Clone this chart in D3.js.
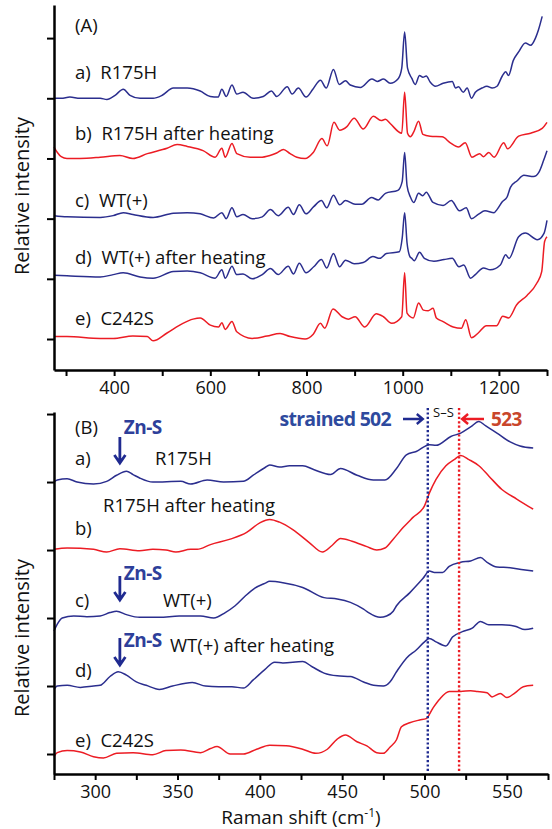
<!DOCTYPE html>
<html>
<head>
<meta charset="utf-8">
<script src="https://cdn.jsdelivr.net/npm/d3@7"></script>
<style>
  html, body { margin: 0; padding: 0; background: #fff; }
  svg { display: block; font-family: "Open Sans", sans-serif; }
</style>
</head>
<body>
<svg id="chart" width="552" height="829"></svg>
<script>
// ---- data: panel A (Raman shift cm-1, relative intensity; 1 = one tick step) ----
const specA_a = [[275,0],[290,0],[308,0.02],[329,0],[350,0],[371,0],[385,-0.02],[402,0.05],[419,0.15],[433,0.05],[454,0],[481,0],[500,0.05],[523,0.17],[552,0.17],[579,0.12],[600,0.03],[616,0.02],[624,0.15],[633,0.03],[645,0.22],[655,0.07],[668,0.1],[689,0],[710,0.03],[727,0.12],[738,0.03],[760,0.19],[770,0.07],[783,0.17],[799,0.02],[814,0.16],[829,0.3],[841,0.17],[856,0.48],[868,0.23],[881,0.29],[891,0.22],[912,0.18],[936,0.32],[947,0.28],[960,0.32],[974,0.25],[991,0.33],[998,0.5],[1004,1.1],[1010,0.5],[1019,0.33],[1026,0.23],[1035,0.38],[1042,0.35],[1049,0.37],[1057,0.27],[1068,0.2],[1084,0.25],[1103,0.28],[1110,0.17],[1116,0.19],[1126,0.1],[1134,0.17],[1143,0],[1151,0.1],[1165,0.17],[1175,0.2],[1186,0.17],[1196,0.2],[1207,0.37],[1214,0.44],[1220,0.38],[1230,0.63],[1241,0.77],[1255,0.92],[1266,0.88],[1276,1.0],[1282,1.13],[1290,1.36]];
const specA_b = [[275,0.19],[282,0.1],[290,0.03],[302,0],[329,0],[371,0.02],[412,0.05],[439,0],[469,0.08],[510,0.17],[531,0.23],[552,0.2],[585,0.13],[610,0.02],[624,0.17],[631,0.02],[645,0.25],[655,0.08],[683,0.02],[704,0.02],[724,0.05],[738,0.09],[752,0.15],[766,0.08],[780,0.02],[797,0],[814,0.1],[832,0.33],[843,0.21],[857,0.6],[869,0.47],[884,0.53],[899,0.67],[918,0.49],[939,0.7],[955,0.63],[964,0.65],[974,0.58],[998,0.42],[1004,1.1],[1010,0.42],[1016,0.36],[1023,0.44],[1033,0.62],[1042,0.4],[1057,0.37],[1082,0.36],[1099,0.26],[1116,0.19],[1130,0.26],[1144,0.02],[1160,0.08],[1168,0.03],[1179,0.1],[1190,0.02],[1210,0.26],[1218,0.16],[1241,0.37],[1266,0.42],[1290,0.5],[1300,0.6]];
const specA_c = [[275,0.05],[302,0.03],[371,0.02],[398,0.05],[419,0.1],[439,0.07],[481,0.02],[523,0.09],[552,0.1],[579,0.08],[607,0.01],[624,0.1],[633,0],[645,0.18],[655,0.03],[668,0.07],[687,0],[708,0.03],[725,0.15],[741,0.05],[762,0.19],[773,0.07],[785,0.23],[799,0.08],[815,0.2],[831,0.3],[842,0.18],[856,0.39],[869,0.23],[881,0.3],[901,0.24],[915,0.24],[935,0.35],[949,0.31],[964,0.42],[990,0.47],[999,0.62],[1004,1.1],[1009,0.55],[1016,0.36],[1023,0.27],[1033,0.42],[1042,0.38],[1049,0.44],[1063,0.27],[1084,0.22],[1101,0.3],[1118,0.13],[1132,0.18],[1143,0],[1157,0.07],[1171,0.13],[1190,0.1],[1196,0.15],[1207,0.28],[1217,0.36],[1224,0.52],[1238,0.63],[1252,0.72],[1272,0.7],[1283,0.77],[1293,0.97],[1300,1.13]];
const specA_d = [[275,0.06],[302,0.05],[371,0.03],[398,0.07],[419,0.1],[454,0.03],[481,0.01],[523,0.12],[552,0.13],[579,0.1],[610,0.01],[624,0.15],[631,0.01],[645,0.21],[655,0.07],[668,0.08],[687,0],[708,0.07],[725,0.17],[741,0.07],[762,0.21],[773,0.08],[785,0.26],[799,0.1],[815,0.2],[831,0.32],[842,0.18],[856,0.42],[869,0.2],[881,0.31],[899,0.25],[918,0.27],[938,0.37],[952,0.34],[966,0.42],[993,0.45],[999,0.68],[1004,1.1],[1009,0.6],[1015,0.37],[1019,0.34],[1024,0.3],[1035,0.44],[1045,0.34],[1065,0.29],[1086,0.32],[1103,0.34],[1117,0.2],[1127,0.23],[1141,0.01],[1151,0.07],[1168,0.18],[1182,0.15],[1203,0.23],[1214,0.4],[1221,0.34],[1241,0.7],[1255,0.76],[1280,0.65],[1294,0.76],[1300,0.97]];
const specA_e = [[275,0.04],[302,0.04],[371,0.01],[398,0.01],[439,0.05],[469,0.04],[481,-0.03],[510,0.1],[543,0.26],[564,0.33],[579,0.35],[600,0.23],[617,0.2],[624,0.27],[631,0.16],[645,0.29],[655,0.12],[687,0.01],[718,0.05],[745,0.09],[766,0.04],[797,0],[814,0.08],[829,0.26],[838,0.18],[855,0.5],[874,0.37],[887,0.33],[901,0.37],[921,0.2],[945,0.42],[960,0.37],[977,0.26],[998,0.37],[1004,1.1],[1009,0.43],[1022,0.35],[1033,0.6],[1043,0.48],[1053,0.47],[1063,0.51],[1070,0.35],[1084,0.29],[1105,0.2],[1122,0.18],[1131,0.32],[1143,0.02],[1157,0.1],[1174,0.22],[1195,0.22],[1208,0.38],[1220,0.35],[1237,0.57],[1258,0.72],[1279,0.93],[1289,1.12],[1295,1.62],[1300,1.7]];

// ---- data: panel B ----
const specB_a = [[275,0],[277,0.03],[283,0.05],[289,0],[299,-0.03],[307,0.01],[313,0.1],[319,0.16],[323,0.11],[327,0.06],[335,0],[352,0.01],[358,-0.03],[368,0.03],[378,0],[390,0.01],[396,0.1],[403,0.21],[406,0.25],[412,0.22],[418,0.24],[426,0.24],[433,0.18],[443,0.11],[449,0.2],[459,0.1],[469,0.03],[476,0.03],[483,0.2],[489,0.4],[495,0.45],[503,0.55],[507,0.54],[516,0.67],[522,0.72],[528,0.81],[533,0.89],[537,0.83],[544,0.72],[552,0.59],[558,0.53],[566,0.5]];
const specB_b = [[275,0.01],[283,0.03],[299,0.01],[307,-0.03],[315,0.02],[327,-0.01],[335,0.01],[343,0],[349,-0.03],[358,0.01],[362,0.01],[370,0.08],[382,0.16],[392,0.26],[400,0.4],[406,0.45],[412,0.41],[420,0.3],[430,0.11],[438,-0.03],[444,0.07],[449,0.17],[456,0.13],[465,0.05],[471,0],[476,0.03],[481,0.16],[487,0.33],[493,0.48],[500,0.65],[503,0.84],[507,1.04],[513,1.24],[518,1.33],[522,1.39],[527,1.33],[533,1.24],[539,1.09],[547,0.89],[556,0.75],[566,0.6]];
const specB_c = [[275,-0.19],[277,-0.09],[280,0],[287,0.03],[295,0.02],[303,0.03],[309,0.08],[313,0.1],[319,0.05],[327,0.01],[339,0.01],[351,0.03],[364,0.03],[372,0],[379,0.08],[385,0.18],[391,0.32],[397,0.44],[403,0.51],[406,0.54],[414,0.52],[426,0.45],[439,0.3],[447,0.28],[455,0.23],[463,0.13],[466,0.08],[473,0.01],[477,0.03],[481,0.1],[483,0.18],[491,0.37],[499,0.58],[503,0.69],[506,0.67],[511,0.67],[515,0.76],[522,0.82],[528,0.84],[534,0.89],[538,0.82],[544,0.75],[552,0.74],[560,0.71],[566,0.69]];
const specB_d = [[275,-0.05],[277,0],[283,0.01],[291,-0.02],[299,0],[303,0.01],[309,0.14],[314,0.21],[319,0.16],[325,0.06],[331,0.01],[339,-0.05],[347,0],[359,0.05],[367,0],[375,-0.01],[383,-0.01],[390,-0.03],[396,0.09],[403,0.24],[409,0.35],[414,0.34],[426,0.36],[432,0.28],[439,0.19],[447,0.15],[455,0.14],[463,0.06],[469,0.01],[475,0],[479,0.06],[483,0.21],[489,0.41],[495,0.53],[500,0.65],[503,0.7],[507,0.65],[513,0.59],[517,0.72],[523,0.8],[529,0.85],[534,0.95],[539,0.9],[547,0.9],[555,0.88],[561,0.83],[566,0.85]];
const specB_e = [[275,-0.04],[277,0.02],[283,0.05],[291,0.03],[299,-0.04],[305,-0.06],[313,0.01],[323,0.02],[335,-0.01],[343,0.05],[352,0.06],[364,0.02],[370,0.08],[374,0.11],[382,0],[390,0],[398,0.07],[406,0.13],[416,0.12],[426,0.07],[434,0.01],[441,0.07],[447,0.22],[452,0.28],[459,0.18],[465,0.12],[471,0.02],[475,0.01],[479,0.1],[483,0.21],[486,0.4],[491,0.46],[497,0.5],[501,0.52],[505,0.67],[509,0.8],[515,0.92],[522,0.92],[528,0.93],[532,0.92],[538,0.9],[541,0.84],[546,0.89],[550,0.83],[555,0.9],[560,0.99],[566,1.01]];

const offsets = [4, 3, 2, 1, 0];            // a..e stacked one tick apart
const seriesColors = ['blue', 'red', 'blue', 'blue', 'red'];
const labelsA = ['a)  R175H', 'b)  R175H after heating', 'c)  WT(+)', 'd)  WT(+) after heating', 'e)  C242S'];
const ticksA = [300, 400, 500, 600, 700, 800, 900, 1000, 1100, 1200, 1300];
const ticksB = [275, 300, 325, 350, 375, 400, 425, 450, 475, 500, 525, 550, 575];
const yTicks = [0, 1, 2, 3, 4, 5];
const ssLines = [502, 521];                 // strained 502 / 523 S-S markers
const znS = 315;

const BLUE = '#2b2e8e';
const RED = '#ec1c24';
const FS = 18.5;

const svg = d3.select('#chart');

// ---- scales ----
const xA = d3.scaleLinear().domain([275, 1300]).range([54, 547]);
const yA = d3.scaleLinear().domain([-0.515, 5.55]).range([370, 5]);
const xB = d3.scaleLinear().domain([275, 575]).range([54, 548]);
const yB = d3.scaleLinear().domain([-0.294, 5.03]).range([774, 412]);

function drawPanel(x, y, specs, ticks, labelStep) {
  const g = svg.append('g');
  const line = d3.line().curve(d3.curveMonotoneX);
  specs.forEach((s, i) => {
    line.x((d) => x(d[0])).y((d) => y(d[1] + offsets[i]));
    g.append('path')
      .attr('d', line(s))
      .attr('fill', 'none')
      .attr('stroke', seriesColors[i] === 'red' ? RED : BLUE)
      .attr('stroke-width', 1.5)
      .attr('stroke-linejoin', 'round');
  });

  const xAxis = d3.axisBottom(x)
    .tickValues(ticks)
    .tickSize(6)
    .tickSizeOuter(0)
    .tickFormat((v) => (v % labelStep === 0 && v !== 1300 ? v : ''));
  const gx = g.append('g')
    .attr('transform', `translate(0,${y.range()[0]})`)
    .call(xAxis);
  gx.select('.domain').attr('stroke-width', 2.5);
  gx.selectAll('.tick line').attr('stroke-width', 2);
  gx.selectAll('.tick text')
    .attr('font-family', '"Open Sans", sans-serif')
    .attr('font-size', 18)
    .attr('fill', '#111')
    .attr('dy', '0.85em');

  const yAxis = d3.axisLeft(y).tickValues(yTicks).tickSize(7).tickSizeOuter(0).tickFormat('');
  const gy = g.append('g').attr('transform', `translate(${x.range()[0]},0)`).call(yAxis);
  gy.select('.domain').attr('stroke-width', 2.5);
  gy.selectAll('.tick line').attr('stroke-width', 2);
  return g;
}

drawPanel(xA, yA, [specA_a, specA_b, specA_c, specA_d, specA_e], ticksA, 200);
const gB = drawPanel(xB, yB, [specB_a, specB_b, specB_c, specB_d, specB_e], ticksB, 50);

// ---- dotted S-S lines ----
ssLines.forEach((v, i) => {
  gB.append('line')
    .attr('x1', xB(v)).attr('x2', xB(v))
    .attr('y1', 408).attr('y2', 771)
    .attr('stroke', i === 0 ? '#1f2a90' : RED)
    .attr('stroke-width', 2.4)
    .attr('stroke-dasharray', '2.2,2.2');
});

// ---- text ----
function txt(x, y, s, opts = {}) {
  return svg.append('text')
    .attr('x', x).attr('y', y)
    .attr('font-size', opts.size || FS)
    .attr('font-weight', opts.weight || 400)
    .attr('fill', opts.fill || '#111')
    .attr('text-anchor', opts.anchor || 'start')
    .attr('letter-spacing', opts.ls || 0)
    .style('white-space', 'pre')
    .text(s);
}

// panel A
txt(75, 32, '(A)');
const labelYA = [79, 140, 207, 264, 325];
labelsA.forEach((s, i) => txt(75, labelYA[i], s));

// panel B
txt(75, 434, '(B)');
txt(75, 465, 'a)');
txt(155, 465, 'R175H');
txt(103, 512, 'R175H after heating');
txt(75, 535, 'b)');
txt(75, 607, 'c)');
txt(163, 607, 'WT(+)');
txt(170, 652, 'WT(+) after heating');
txt(75, 677, 'd)');
txt(75, 747, 'e)  C242S');

// Zn-S markers
const znY = [[437, 463, 434], [576, 600, 580], [638, 665, 647]];
znY.forEach(([y0, y1, ty]) => {
  const xp = xB(znS);
  svg.append('path')
    .attr('d', `M${xp},${y0}V${y1}M${xp - 5.5},${y1 - 8}L${xp},${y1}L${xp + 5.5},${y1 - 8}`)
    .attr('fill', 'none').attr('stroke', '#1f2a90').attr('stroke-width', 2.8);
  txt(xp + 4, ty, 'Zn-S', { weight: 700, fill: '#2e3f9a', size: 19, ls: -0.6 });
});

// strained 502 / S-S / 523
txt(391, 426, 'strained 502', { weight: 700, fill: '#2e4a9e', size: 19.5, anchor: 'end', ls: -0.7 });
const ax0 = 403, ax1 = xB(ssLines[0]) - 5;
svg.append('path')
  .attr('d', `M${ax0},419H${ax1}M${ax1 - 6},414L${ax1},419L${ax1 - 6},424`)
  .attr('fill', 'none').attr('stroke', '#1f2a90').attr('stroke-width', 2.4);
txt(433, 417, 'S–S', { size: 13 });
const rx0 = 484, rx1 = xB(ssLines[1]) + 3;
svg.append('path')
  .attr('d', `M${rx0},419H${rx1}M${rx1 + 6},414L${rx1},419L${rx1 + 6},424`)
  .attr('fill', 'none').attr('stroke', RED).attr('stroke-width', 2.4);
txt(491, 426, '523', { weight: 700, fill: '#c9462b', size: 19, ls: -0.6 });

// axis titles
svg.append('text')
  .attr('transform', 'translate(29,196) rotate(-90)')
  .attr('text-anchor', 'middle').attr('font-size', 20).attr('fill', '#111')
  .text('Relative intensity');
svg.append('text')
  .attr('transform', 'translate(29,638) rotate(-90)')
  .attr('text-anchor', 'middle').attr('font-size', 20).attr('fill', '#111')
  .text('Relative intensity');

const xt = svg.append('text')
  .attr('x', 301).attr('y', 824)
  .attr('text-anchor', 'middle').attr('font-size', 19).attr('fill', '#111');
xt.append('tspan').text('Raman shift (cm');
xt.append('tspan').attr('font-size', 12).attr('dy', -7).text('-1');
xt.append('tspan').attr('dy', 7).text(')');
</script>
</body>
</html>
